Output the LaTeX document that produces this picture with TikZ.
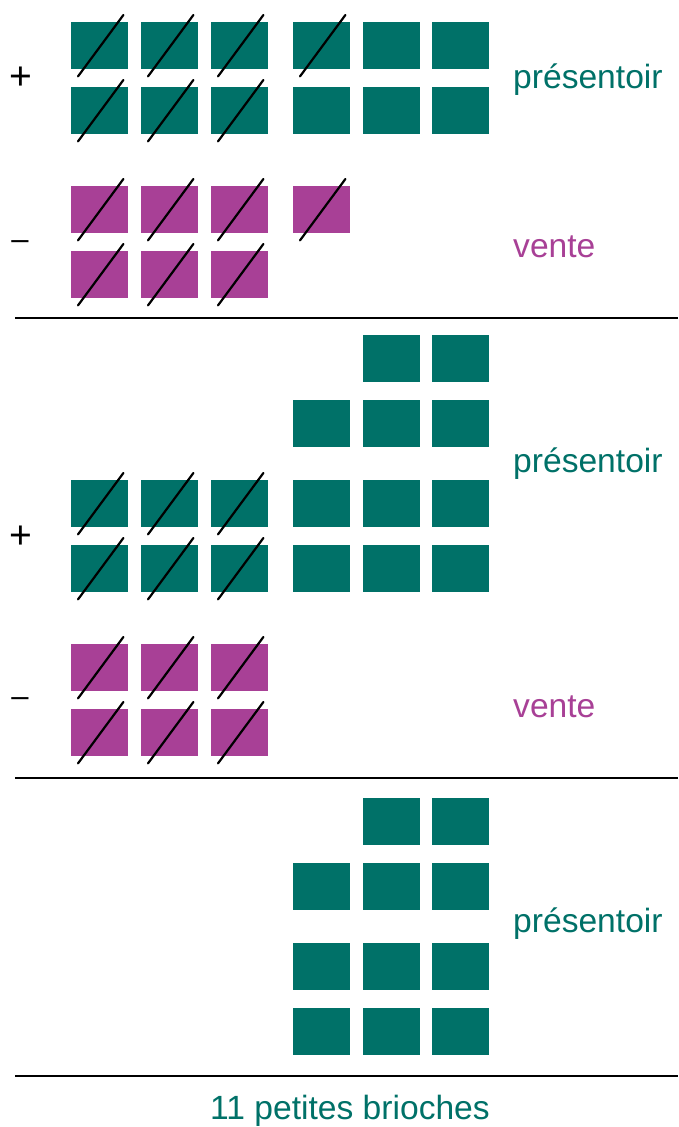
\documentclass[tikz,border=0pt]{standalone}
\usepackage{fontspec}
\setmainfont{Liberation Sans}
\definecolor{bun}{RGB}{0,113,104}
\definecolor{sold}{RGB}{168,64,150}
\tikzset{
  tray/.style={fill=bun, draw=none, inner sep=0pt, minimum width=57pt, minimum height=47pt, anchor=north west},
  sale/.style={tray, fill=sold},
  cross/.style={line width=2.2pt, line cap=round, black},
  rule/.style={line width=2pt, black},
  lbl/.style={inner sep=0pt, anchor=base west, font=\fontsize{33.6}{40}\selectfont},
  sign/.style={inner sep=0pt, anchor=center},
  plussign/.style={sign, font=\fontsize{39}{44}\selectfont},
  minussign/.style={sign, font=\fontsize{31}{40}\selectfont}
}
% column left edges
\def\colx#1{\ifcase#1\or71\or141\or211\or293\or363\or432\fi}
\begin{document}
\begin{tikzpicture}[x=1pt,y=-1pt]
\useasboundingbox (0,0) rectangle (678,1127);
% a bun box: name, column, top, style
\newcommand\bunbox[4]{\node[#4] (#1) at (\colx{#2},#3) {};}
\newcommand\strike[1]{\draw[cross] ([shift={(7,7)}]#1.south west) -- ([shift={(-5,-7)}]#1.north east);}

% ---------- first stage ----------
\foreach \c in {1,...,6} {\bunbox{a1\c}{\c}{22}{tray}}
\foreach \c in {1,...,6} {\bunbox{a2\c}{\c}{87}{tray}}
\foreach \c in {1,...,4} {\strike{a1\c}}
\foreach \c in {1,...,3} {\strike{a2\c}}
\foreach \c in {1,...,4} {\bunbox{b1\c}{\c}{186}{sale}\strike{b1\c}}
\foreach \c in {1,...,3} {\bunbox{b2\c}{\c}{251}{sale}\strike{b2\c}}
\node[plussign] (plusA) at (21,78) {+};
\node[minussign] (minusA) at (20,245) {–};
\node[lbl, text=bun] (presA) at (513,88) {présentoir};
\node[lbl, text=sold] (venteA) at (513,257) {vente};
\coordinate (r1a) at (15,318); \coordinate (r1b) at (678,318);
\draw[rule] (r1a) -- (r1b);

% ---------- second stage ----------
\foreach \c in {5,6} {\bunbox{c1\c}{\c}{335}{tray}}
\foreach \c in {4,5,6} {\bunbox{c2\c}{\c}{400}{tray}}
\foreach \c in {1,...,6} {\bunbox{c3\c}{\c}{480}{tray}}
\foreach \c in {1,...,6} {\bunbox{c4\c}{\c}{545}{tray}}
\foreach \c in {1,...,3} {\strike{c3\c}\strike{c4\c}}
\foreach \c in {1,...,3} {\bunbox{d1\c}{\c}{644}{sale}\strike{d1\c}}
\foreach \c in {1,...,3} {\bunbox{d2\c}{\c}{709}{sale}\strike{d2\c}}
\node[plussign] (plusB) at (21,537) {+};
\node[minussign] (minusB) at (20,702) {–};
\node[lbl, text=bun] (presB) at (513,472) {présentoir};
\node[lbl, text=sold] (venteB) at (513,717) {vente};
\coordinate (r2a) at (15,778); \coordinate (r2b) at (678,778);
\draw[rule] (r2a) -- (r2b);

% ---------- result ----------
\foreach \c in {5,6} {\bunbox{e1\c}{\c}{798}{tray}}
\foreach \c in {4,5,6} {\bunbox{e2\c}{\c}{863}{tray}}
\foreach \c in {4,5,6} {\bunbox{e3\c}{\c}{943}{tray}}
\foreach \c in {4,5,6} {\bunbox{e4\c}{\c}{1008}{tray}}
\node[lbl, text=bun] (presC) at (513,932) {présentoir};
\coordinate (r3a) at (15,1076); \coordinate (r3b) at (678,1076);
\draw[rule] (r3a) -- (r3b);
\node[lbl, anchor=base, text=bun] (total) at (350,1119) {11 petites brioches};
\end{tikzpicture}
\end{document}
